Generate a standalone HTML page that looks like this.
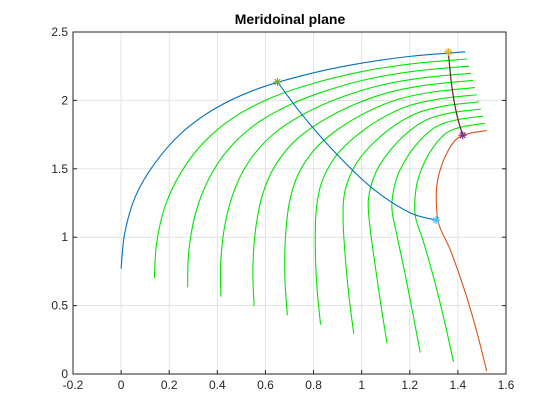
<!DOCTYPE html>
<html><head><meta charset="utf-8"><style>
html,body{margin:0;padding:0;background:#fff;}
svg{display:block;font-family:"Liberation Sans",Arial,sans-serif;}
</style></head><body>
<svg id="chart" width="560" height="420">
<text x="290" y="24" text-anchor="middle" font-size="14" font-weight="bold" fill="#000">Meridoinal plane</text>
<g id="grid"></g>
<g id="series"></g>
<g id="axes"></g>
</svg>
<script>
const xTicks=[-0.2,0,0.2,0.4,0.6,0.8,1,1.2,1.4,1.6];
const xTickLabels=["-0.2","0","0.2","0.4","0.6","0.8","1","1.2","1.4","1.6"];
const yTicks=[0,0.5,1,1.5,2,2.5];
const yTickLabels=["0","0.5","1","1.5","2","2.5"];
const hubX=[0,0.015,0.06,0.14,0.25,0.39,0.56,0.75,0.96,1.19,1.43];
const hubY=[0.77,1.03,1.30,1.54,1.76,1.94,2.08,2.18,2.26,2.32,2.355];
const shroudX=[1.52,1.48,1.43,1.37,1.32,1.31,1.32,1.35,1.39,1.44,1.52];
const shroudY=[0.02,0.3,0.6,0.9,1.1,1.3,1.45,1.6,1.71,1.755,1.78];
const streamCount=10;
const meridX=[0.65,0.75,0.9,1.05,1.2,1.31];
const meridY=[2.135,1.9,1.6,1.35,1.18,1.125];
const leX=[1.36,1.375,1.395,1.42];
const leY=[2.355,2.1,1.9,1.745];
const markerX=[0.65,1.36,1.42,1.31];
const markerY=[2.135,2.355,1.745,1.125];
const markerColors=["#77AC30","#EDB120","#7E2F8E","#4DBEEE"];

const L=73,R=506,T=32,B=374;
const xs=v=>L+(v+0.2)/1.8*(R-L);
const ys=v=>B-v/2.5*(B-T);
const NS="http://www.w3.org/2000/svg";
function el(tag,attrs,parent){const e=document.createElementNS(NS,tag);for(const k in attrs)e.setAttribute(k,attrs[k]);parent.appendChild(e);return e;}
function pathD(X,Y){
  const p=X.map((x,i)=>[xs(x),ys(Y[i])]);
  let d="M"+p[0][0].toFixed(2)+","+p[0][1].toFixed(2);
  for(let i=0;i<p.length-1;i++){
    const p0=p[Math.max(i-1,0)],p1=p[i],p2=p[i+1],p3=p[Math.min(i+2,p.length-1)];
    const c1=[p1[0]+(p2[0]-p0[0])/6,p1[1]+(p2[1]-p0[1])/6];
    const c2=[p2[0]-(p3[0]-p1[0])/6,p2[1]-(p3[1]-p1[1])/6];
    d+=" C"+c1[0].toFixed(2)+","+c1[1].toFixed(2)+" "+c2[0].toFixed(2)+","+c2[1].toFixed(2)+" "+p2[0].toFixed(2)+","+p2[1].toFixed(2);
  }
  return d;
}
const grid=document.getElementById('grid'),ser=document.getElementById('series'),ax=document.getElementById('axes');
xTicks.forEach((t,i)=>{
  const g=el('line',{x1:xs(t),x2:xs(t),y1:T,y2:B,stroke:"#e3e3e3","stroke-width":1},grid);
  
  
  const tk=el('line',{x1:xs(t),x2:xs(t),y1:B,y2:B-4,stroke:"#262626"},ax);
  
  
  const tx=el('text',{x:xs(t),y:B+15,"text-anchor":"middle","font-size":12,fill:"#262626"},ax);
  tx.textContent=xTickLabels[i];
  
  
});
yTicks.forEach((t,i)=>{
  const g=el('line',{x1:L,x2:R,y1:ys(t),y2:ys(t),stroke:"#e3e3e3","stroke-width":1},grid);
  
  
  const tk=el('line',{x1:L,x2:L+4,y1:ys(t),y2:ys(t),stroke:"#262626"},ax);
  
  
  const tk2=el('line',{x1:R,x2:R-4,y1:ys(t),y2:ys(t),stroke:"#262626"},ax);
  
  
  const tx=el('text',{x:L-5,y:ys(t)+4,"text-anchor":"end","font-size":12,fill:"#262626"},ax);
  tx.textContent=yTickLabels[i];
  
  
});
const box=el('rect',{x:L,y:T,width:R-L,height:B-T,fill:"none",stroke:"#262626","stroke-width":1},ax);


for(let k=1;k<=streamCount;k++){
  const t=k/(streamCount+1);
  const gx=hubX.map((h,i)=>h*(1-t)+shroudX[i]*t);
  const gy=hubY.map((h,i)=>h*(1-t)+shroudY[i]*t);
  const p=el('path',{d:pathD(gx,gy),fill:"none",stroke:"#00e600","stroke-width":1.1},ser);
  
  
}
const hub=el('path',{d:pathD(hubX,hubY),fill:"none",stroke:"#0072BD","stroke-width":1.1},ser);


const sh=el('path',{d:pathD(shroudX,shroudY),fill:"none",stroke:"#D95319","stroke-width":1.1},ser);


const md=el('path',{d:pathD(meridX,meridY),fill:"none",stroke:"#0072BD","stroke-width":1.1},ser);


const le=el('path',{d:pathD(leX,leY),fill:"none",stroke:"#6a2020","stroke-width":1.2},ser);


markerX.forEach((mx,i)=>{
  const cx=xs(mx),cy=ys(markerY[i]),r=4;
  const g=el('g',{stroke:markerColors[i],"stroke-width":1.2},ser);
  
  
  el('line',{x1:cx-r,x2:cx+r,y1:cy,y2:cy},g);
  el('line',{x1:cx,x2:cx,y1:cy-r,y2:cy+r},g);
  el('line',{x1:cx-r*0.7,x2:cx+r*0.7,y1:cy-r*0.7,y2:cy+r*0.7},g);
  el('line',{x1:cx-r*0.7,x2:cx+r*0.7,y1:cy+r*0.7,y2:cy-r*0.7},g);
});
</script>
</body></html>
